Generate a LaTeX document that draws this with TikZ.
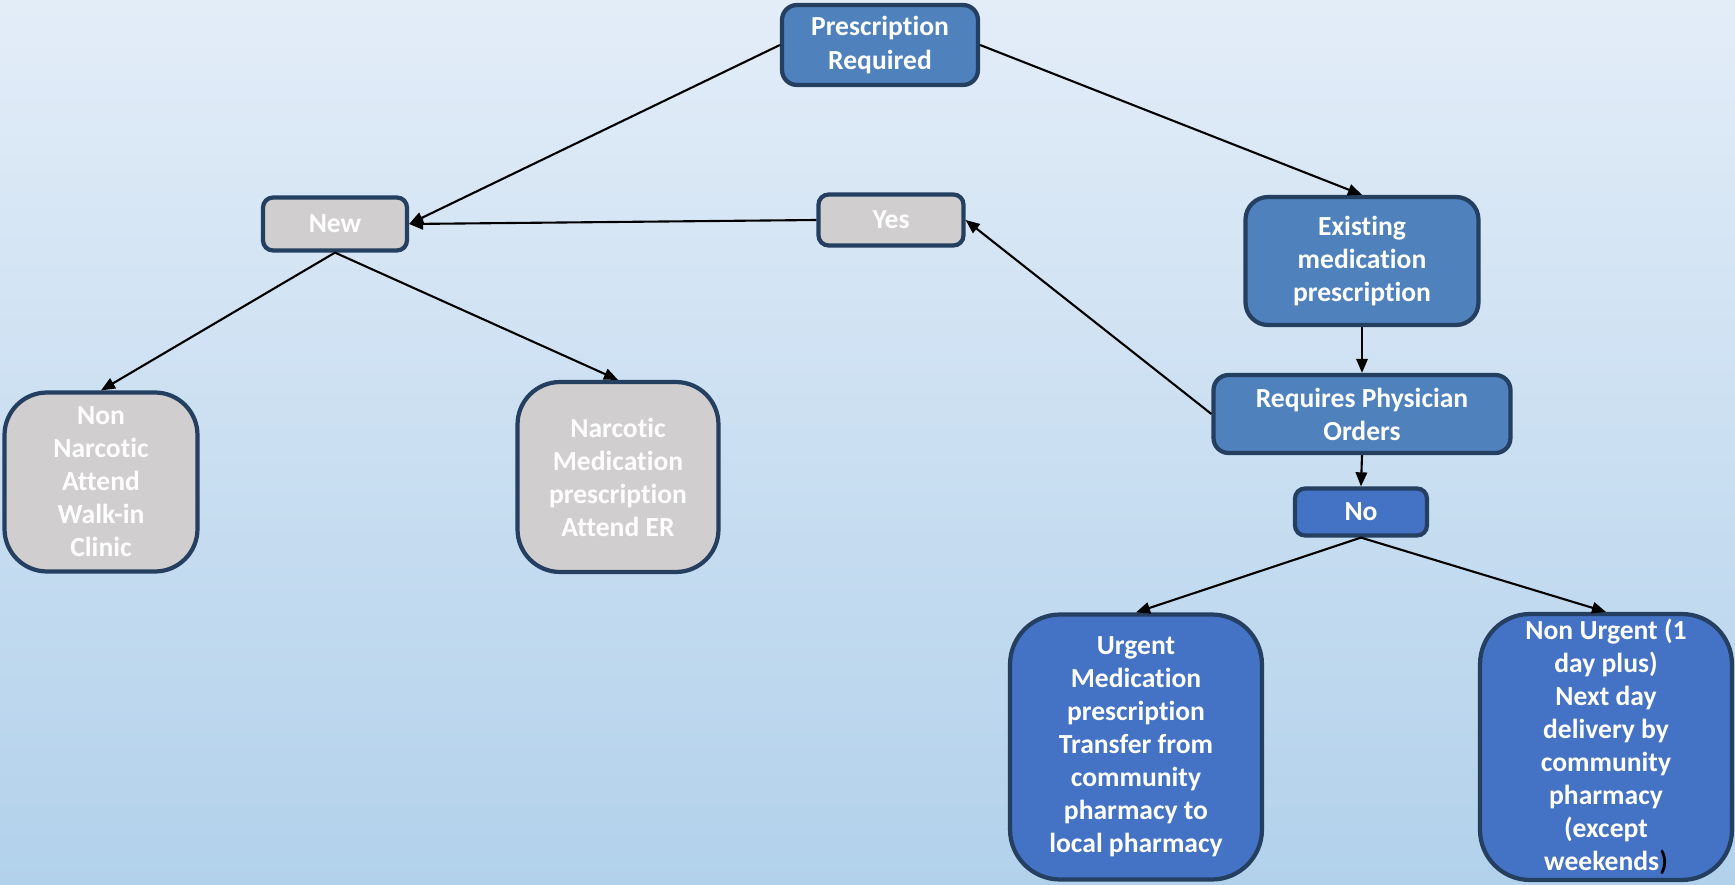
\documentclass[tikz,border=0pt]{standalone}
\usepackage{fontspec}
\setmainfont{Carlito}[Ligatures=NoCommon]
\usetikzlibrary{arrows.meta,calc,positioning}
\usepackage{xcolor}

\definecolor{bgtop}{HTML}{E3EDF8}
\definecolor{bgbottom}{HTML}{B2D1EB}
\definecolor{stepblue}{HTML}{4F81BD}
\definecolor{choiceblue}{HTML}{4472C4}
\definecolor{choicegray}{HTML}{D0CECE}
\definecolor{rimblue}{HTML}{243F60}

\tikzset{
  box/.style={draw=rimblue,line width=2.4pt,text=white,align=center,inner sep=0pt,
    font=\bfseries\fontsize{15.7}{18.8}\selectfont},
  stepbox/.style={box,fill=stepblue,rounded corners=0.3cm},
  bluebox/.style={box,fill=choiceblue,rounded corners=0.3cm},
  graybox/.style={box,fill=choicegray,rounded corners=0.2cm},
  link/.style={-{Triangle[length=8pt,width=6.5pt]},line width=1.2pt,black}
}

\begin{document}
\begin{tikzpicture}[x=0.02cm,y=-0.02cm]
			\shade[top color=bgtop,bottom color=bgbottom] (0,0) rectangle (1735,885);
			% top row
			\node[stepbox,minimum width=3.92cm,minimum height=1.6cm] (presc) at (880,45) {Prescription\\Required};
			\node[graybox,minimum width=2.88cm,minimum height=1.06cm] (new) at (335,224) {New};
			\node[graybox,minimum width=2.9cm,minimum height=1.02cm] (yes) at (891,220) {Yes};
			\node[stepbox,minimum width=4.66cm,minimum height=2.56cm,rounded corners=0.45cm] (exist) at (1362,261) {Existing\\medication\\prescription};
			\node[stepbox,minimum width=5.94cm,minimum height=1.56cm] (orders) at (1362,414) {Requires Physician\\Orders};
			\node[bluebox,minimum width=2.64cm,minimum height=0.94cm,rounded corners=0.2cm] (no) at (1361,512) {No};
			% outcomes
			\node[graybox,minimum width=3.86cm,minimum height=3.58cm,rounded corners=0.85cm] (nonnarc) at (101,482) {Non\\Narcotic\\Attend\\Walk-in\\Clinic};
			\node[graybox,minimum width=4.02cm,minimum height=3.8cm,rounded corners=0.85cm] (narc) at (618,477) {Narcotic\\Medication\\prescription\\Attend ER};
			\node[bluebox,minimum width=5.04cm,minimum height=5.3cm,rounded corners=1cm] (urgent) at (1136,747) {Urgent\\Medication\\prescription\\Transfer from\\community\\pharmacy to\\local pharmacy};
			\node[bluebox,minimum width=5.04cm,minimum height=5.32cm,rounded corners=1cm] (nonurgent) at (1606,747) {Non Urgent (1\\day plus)\\Next day\\delivery by\\community\\pharmacy\\(except\\weekends\textcolor{black}{)}};
			% connectors
			\draw[link] (presc.west) to (new.east);
			\draw[link] (presc.east) to (exist.north);
			\draw[link] (yes.west) to (new.east);
			\draw[link] (orders.west) to (yes.east);
			\draw[link] (exist.south) to (orders.north);
			\draw[link] (orders.south) to (no.north);
			\draw[link] (new.south) to (nonnarc.north);
			\draw[link] (new.south) to (narc.north);
			\draw[link] (no.south) to (urgent.north);
			\draw[link] (no.south) to (nonurgent.north);
\end{tikzpicture}
\end{document}
